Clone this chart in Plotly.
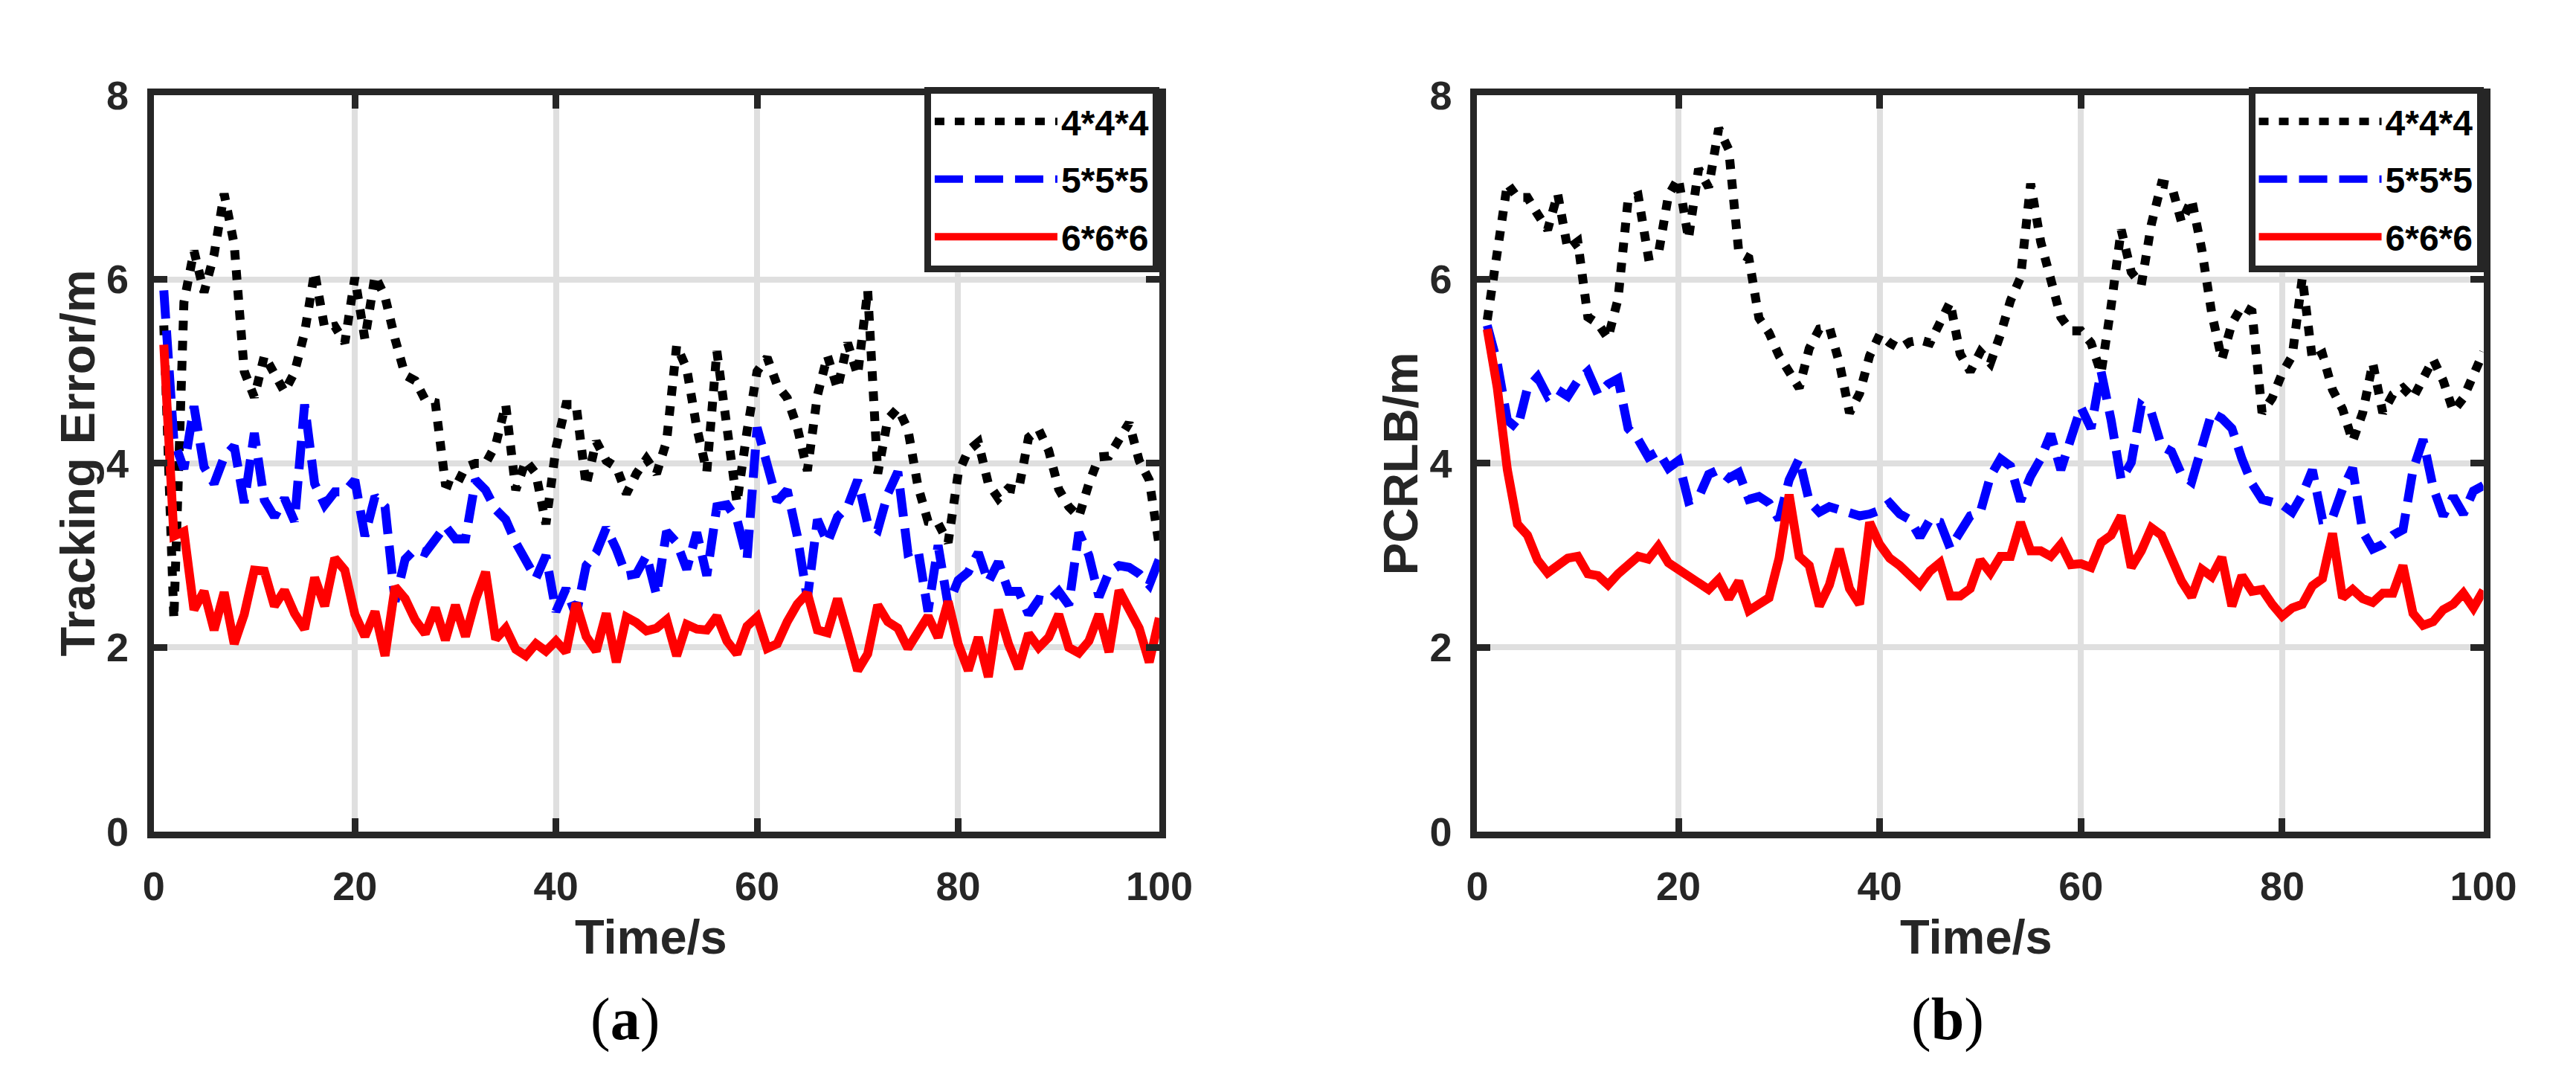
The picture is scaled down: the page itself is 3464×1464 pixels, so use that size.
import plotly.graph_objects as go

time_s = list(range(1, 101))
series_names = ["4*4*4", "5*5*5", "6*6*6"]

# (a) tracking error
err_444 = [5.50, 2.31, 5.75, 6.31, 5.86, 6.27, 6.93, 6.38, 5.00, 4.72,
           5.17, 4.96, 4.78, 4.99, 5.42, 6.08, 5.47, 5.49, 5.31, 6.02,
           5.35, 6.04, 5.81, 5.35, 4.96, 4.90, 4.69, 4.66, 3.78, 3.74,
           3.96, 4.00, 4.00, 4.20, 4.64, 3.71, 4.03, 3.89, 3.34, 4.17,
           4.64, 4.64, 3.76, 4.24, 4.03, 3.96, 3.67, 3.89, 4.05, 3.89,
           4.24, 5.28, 5.03, 4.39, 3.91, 5.22, 4.46, 3.57, 4.35, 5.00,
           5.15, 4.85, 4.71, 4.39, 3.92, 4.74, 5.17, 4.81, 5.31, 4.96,
           5.88, 3.89, 4.48, 4.60, 4.37, 3.75, 3.37, 3.35, 3.14, 3.89,
           4.14, 4.23, 3.78, 3.62, 3.73, 3.71, 4.28, 4.37, 4.14, 3.72,
           3.53, 3.42, 3.78, 4.07, 4.08, 4.24, 4.44, 4.03, 3.82, 3.10]
err_555 = [5.88, 4.25, 3.94, 4.62, 3.96, 3.78, 4.07, 4.19, 3.57, 4.33,
           3.60, 3.42, 3.62, 3.37, 4.64, 3.78, 3.55, 3.69, 3.69, 3.82,
           3.21, 3.64, 3.53, 2.50, 2.96, 3.07, 3.03, 3.18, 3.32, 3.18,
           3.18, 3.82, 3.71, 3.50, 3.39, 3.14, 2.93, 2.75, 3.00, 2.39,
           2.64, 2.35, 2.89, 3.03, 3.30, 3.07, 2.78, 2.80, 3.00, 2.57,
           3.26, 3.14, 2.85, 3.25, 2.78, 3.53, 3.55, 3.39, 2.96, 4.39,
           3.99, 3.59, 3.71, 3.21, 2.53, 3.39, 3.14, 3.42, 3.53, 3.82,
           3.35, 3.28, 3.67, 3.91, 3.03, 3.07, 2.39, 3.11, 2.46, 2.73,
           2.82, 3.03, 2.71, 2.93, 2.61, 2.61, 2.36, 2.52, 2.50, 2.61,
           2.46, 3.25, 3.00, 2.55, 2.82, 2.89, 2.87, 2.80, 2.68, 2.96]
err_666 = [5.29, 3.21, 3.26, 2.41, 2.61, 2.19, 2.60, 2.04, 2.36, 2.84,
           2.83, 2.45, 2.62, 2.37, 2.20, 2.76, 2.45, 2.97, 2.84, 2.36,
           2.12, 2.39, 1.91, 2.66, 2.53, 2.30, 2.15, 2.43, 2.08, 2.46,
           2.12, 2.52, 2.82, 2.09, 2.21, 1.98, 1.91, 2.04, 1.96, 2.07,
           1.95, 2.48, 2.12, 1.96, 2.37, 1.84, 2.33, 2.27, 2.18, 2.21,
           2.30, 1.91, 2.25, 2.20, 2.19, 2.34, 2.07, 1.93, 2.23, 2.33,
           1.99, 2.04, 2.28, 2.47, 2.59, 2.19, 2.16, 2.53, 2.15, 1.75,
           1.93, 2.46, 2.28, 2.21, 1.99, 2.16, 2.34, 2.11, 2.50, 2.04,
           1.75, 2.11, 1.68, 2.41, 2.04, 1.77, 2.15, 2.00, 2.11, 2.36,
           2.00, 1.94, 2.07, 2.36, 1.95, 2.62, 2.41, 2.21, 1.84, 2.32]

# (b) PCRLB
crlb_444 = [5.56, 6.33, 7.04, 6.89, 6.89, 6.71, 6.54, 6.93, 6.33, 6.41,
            5.59, 5.52, 5.36, 5.79, 6.87, 6.91, 6.25, 6.27, 6.91, 7.10,
            6.44, 7.20, 7.00, 7.64, 7.41, 6.29, 6.23, 5.58, 5.42, 5.17,
            4.98, 4.82, 5.25, 5.46, 5.48, 5.09, 4.55, 4.76, 5.17, 5.40,
            5.31, 5.25, 5.32, 5.34, 5.31, 5.52, 5.75, 5.19, 5.00, 5.21,
            5.09, 5.40, 5.77, 6.02, 7.04, 6.41, 6.02, 5.59, 5.44, 5.44,
            5.31, 4.98, 5.71, 6.54, 6.08, 5.94, 6.60, 7.04, 7.02, 6.62,
            6.87, 6.33, 5.63, 5.13, 5.52, 5.71, 5.65, 4.55, 4.71, 4.98,
            5.17, 6.02, 5.13, 5.19, 4.80, 4.59, 4.24, 4.55, 5.09, 4.55,
            4.75, 4.82, 4.71, 4.94, 5.13, 4.90, 4.57, 4.71, 4.94, 5.21]
crlb_555 = [5.50, 5.09, 4.47, 4.38, 4.82, 4.94, 4.73, 4.80, 4.73, 4.90,
            5.00, 4.75, 4.86, 4.92, 4.38, 4.26, 4.07, 4.13, 3.95, 4.03,
            3.59, 3.63, 3.88, 3.93, 3.84, 3.90, 3.61, 3.64, 3.57, 3.39,
            3.82, 4.05, 3.59, 3.47, 3.53, 3.49, 3.45, 3.43, 3.45, 3.49,
            3.57, 3.45, 3.39, 3.20, 3.39, 3.36, 3.08, 3.28, 3.43, 3.47,
            3.86, 4.05, 3.97, 3.59, 3.86, 4.05, 4.32, 3.93, 4.26, 4.61,
            4.38, 5.00, 4.47, 3.82, 4.01, 4.63, 4.55, 4.19, 4.13, 3.88,
            3.80, 4.20, 4.55, 4.49, 4.38, 4.05, 3.78, 3.61, 3.57, 3.55,
            3.47, 3.66, 3.93, 3.39, 3.41, 3.72, 3.95, 3.26, 3.07, 3.12,
            3.22, 3.28, 3.93, 4.26, 3.74, 3.43, 3.64, 3.45, 3.70, 3.76]
crlb_666 = [5.46, 4.82, 3.93, 3.34, 3.22, 2.95, 2.81, 2.89, 2.97, 2.99,
            2.80, 2.78, 2.68, 2.80, 2.89, 2.99, 2.96, 3.10, 2.92, 2.85,
            2.78, 2.70, 2.63, 2.74, 2.53, 2.72, 2.40, 2.47, 2.54, 2.97,
            3.66, 2.99, 2.89, 2.45, 2.68, 3.07, 2.64, 2.47, 3.36, 3.12,
            2.97, 2.89, 2.78, 2.68, 2.83, 2.92, 2.56, 2.56, 2.64, 2.95,
            2.81, 2.99, 2.99, 3.36, 3.05, 3.05, 2.99, 3.12, 2.90, 2.91,
            2.87, 3.14, 3.22, 3.43, 2.87, 3.05, 3.30, 3.22, 2.97, 2.72,
            2.55, 2.85, 2.77, 2.98, 2.45, 2.78, 2.61, 2.63, 2.47, 2.34,
            2.43, 2.47, 2.67, 2.75, 3.24, 2.54, 2.63, 2.53, 2.49, 2.59,
            2.59, 2.89, 2.37, 2.24, 2.28, 2.41, 2.47, 2.59, 2.43, 2.62]

W, H = 3464, 1464
INK = "#262626"
FONT = "Liberation Sans, Arial, sans-serif"

styles = [
    dict(color="#000000", width=12, dash="13px,14px"),
    dict(color="#0000ff", width=12, dash="38px,16px"),
    dict(color="#ff0000", width=12),
]

fig = go.Figure()

panels = [
    ("x", "y", "legend", [err_444, err_555, err_666]),
    ("x2", "y2", "legend2", [crlb_444, crlb_555, crlb_666]),
]
for xa, ya, lg, ys in panels:
    for name, vals, st in zip(series_names, ys, styles):
        fig.add_trace(go.Scatter(
            x=time_s, y=vals, mode="lines", name=name,
            line=st, xaxis=xa, yaxis=ya, legend=lg,
            legendgroup=lg + name,
        ))

def px_x(p):
    return p / W

def px_y(p):
    return 1 - p / H

axis_common = dict(
    showline=True, linewidth=9, linecolor=INK, mirror="ticks",
    ticks="inside", ticklen=18, tickwidth=9, tickcolor=INK,
    showgrid=True, gridcolor="#dfdfdf", gridwidth=8,
    zeroline=False,
    tickfont=dict(family=FONT, size=54, color=INK, weight="bold"),
)

fig.update_layout(
    width=W, height=H,
    margin=dict(l=0, r=0, t=0, b=0),
    paper_bgcolor="white", plot_bgcolor="white",
    xaxis=dict(domain=[px_x(187), px_x(1563)], range=[0, 100], dtick=20,
               anchor="y", ticklabelstandoff=18, **axis_common),
    yaxis=dict(domain=[px_y(1126), px_y(94)], range=[0, 8], dtick=2,
               anchor="x", ticklabelstandoff=14, **axis_common),
    xaxis2=dict(domain=[px_x(1998), px_x(3375)], range=[0, 100], dtick=20,
                anchor="y2", ticklabelstandoff=18, **axis_common),
    yaxis2=dict(domain=[px_y(1126), px_y(94)], range=[0, 8], dtick=2,
                anchor="x2", ticklabelstandoff=14, **axis_common),
    showlegend=True,
)

legend_common = dict(
    xanchor="right", yanchor="top", y=px_y(82),
    bgcolor="white", bordercolor=INK, borderwidth=9,
    font=dict(family=FONT, size=48, color="black", weight="bold"),
    itemwidth=165, tracegroupgap=12,
)
fig.update_layout(
    legend=dict(x=px_x(1563), **legend_common),
    legend2=dict(x=px_x(3375), **legend_common),
)

title_font = dict(family=FONT, size=65, color=INK, weight="bold")
for cx, ylab in [(82, "Tracking Error/m"), (1893, "PCRLB/m")]:
    fig.add_annotation(text=ylab, x=px_x(cx), y=px_y(610), xref="paper", yref="paper",
                       textangle=-90, showarrow=False, font=title_font,
                       xanchor="center", yanchor="middle")
for cx in (868, 2681):
    fig.add_annotation(text="Time/s", x=px_x(cx), y=px_y(1274), xref="paper", yref="paper",
                       showarrow=False, font=title_font, xanchor="center", yanchor="middle")
for cx, sub in [(832, "a"), (2642, "b")]:
    fig.add_annotation(text="(<b>" + sub + "</b>)", x=px_x(cx), y=px_y(1389),
                       xref="paper", yref="paper", showarrow=False,
                       font=dict(family="Liberation Serif, serif", size=80, color="black"),
                       xanchor="center", yanchor="middle")

fig.write_html("out.html")
